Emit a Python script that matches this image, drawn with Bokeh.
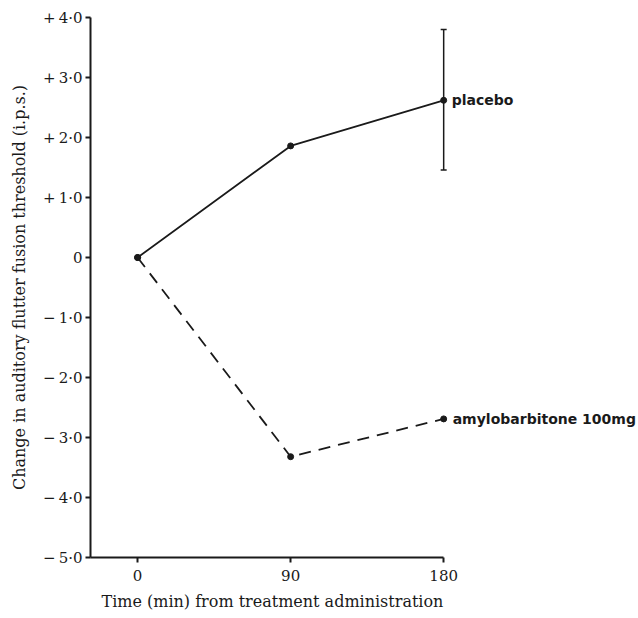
from bokeh.plotting import figure
from bokeh.models import FixedTicker, Range1d, Title
from bokeh.core.properties import value
from bokeh.embed import file_html
from bokeh.resources import INLINE

# ---- data ----
times = [0, 90, 180]
placebo = [0.0, 1.86, 2.62]
amylo = [0.0, -3.32, -2.69]
placebo_err_low = 1.46
placebo_err_high = 3.80
y_ticks = [-5, -4, -3, -2, -1, 0, 1, 2, 3, 4]
y_tick_labels = ["\u2212\u20095\u00b70", "\u2212\u20094\u00b70", "\u2212\u20093\u00b70", "\u2212\u20092\u00b70",
                 "\u2212\u20091\u00b70", "0", "+\u20091\u00b70", "+\u20092\u00b70", "+\u20093\u00b70", "+\u20094\u00b70"]
x_ticks = [0, 90, 180]
x_tick_labels = ["0", "90", "180"]
x_title = "Time (min) from treatment administration"
y_title = "Change in auditory flutter fusion threshold (i.p.s.)"
label_placebo = "placebo"
label_amylo = "amylobarbitone  100mg"

INK = "#1a1a1a"
SERIF = "DejaVu Serif"

p = figure(width=636, height=618, output_backend="svg", toolbar_location=None,
           x_range=Range1d(-27.7, 293.4), y_range=Range1d(-5, 4.0),
           min_border_left=90, min_border_top=17, min_border_bottom=61, min_border_right=0)
p.outline_line_color = None
p.xgrid.visible = False
p.ygrid.visible = False

# axes
p.yaxis.ticker = FixedTicker(ticks=y_ticks)
p.yaxis.major_label_overrides = {t: l for t, l in zip(y_ticks, y_tick_labels)}
p.yaxis.bounds = (-5, 4)
p.xaxis.ticker = FixedTicker(ticks=x_ticks)
p.xaxis.major_label_overrides = {t: l for t, l in zip(x_ticks, x_tick_labels)}
p.xaxis.bounds = (-27.7, 180)

for ax in (p.xaxis[0], p.yaxis[0]):
    ax.axis_line_width = 2
    ax.axis_line_color = INK
    ax.major_tick_line_color = INK
    ax.major_tick_line_width = 2
    ax.major_tick_in = 0
    ax.major_tick_out = 5
    ax.minor_tick_line_color = None
    ax.major_label_text_font = SERIF
    ax.major_label_text_font_size = "15px"
    ax.major_label_text_color = INK
    ax.axis_label_text_font = SERIF
    ax.axis_label_text_font_size = "16px"
    ax.axis_label_text_font_style = "normal"
    ax.axis_label_text_color = INK

p.yaxis.axis_label = y_title
p.yaxis.major_label_standoff = 3
p.yaxis.axis_label_standoff = 11
p.xaxis.major_label_standoff = 7

# x-axis title, placed under the drawn part of the axis
p.add_layout(Title(text=x_title, align="left", offset=11, standoff=12,
                   text_font=SERIF, text_font_size="16px", text_font_style="normal",
                   text_color=INK), "below")

# series
p.line(times, placebo, line_color=INK, line_width=1.8)
p.line(times, amylo, line_color=INK, line_width=1.8, line_dash="12 8")
p.scatter(times, placebo, size=6, color=INK)
p.scatter(times, amylo, size=6, color=INK)

# error bar on placebo at 180
p.segment(x0=[times[2]], y0=[placebo_err_low], x1=[times[2]], y1=[placebo_err_high],
          line_color=INK, line_width=1.5)
p.scatter([times[2], times[2]], [placebo_err_low, placebo_err_high], marker="dash",
          size=6, line_color=INK, line_width=1.5)

# labels
p.text(x=[times[2]], y=[placebo[2]], text=[label_placebo], x_offset=8,
       text_font=value("DejaVu Sans"), text_font_style="bold", text_font_size="14px",
       text_baseline="middle", text_color=INK)
p.text(x=[times[2]], y=[amylo[2]], text=[label_amylo], x_offset=9,
       text_font=value("DejaVu Sans"), text_font_style="bold", text_font_size="14px",
       text_baseline="middle", text_color=INK)

open("out.html", "w").write(file_html(p, INLINE))
